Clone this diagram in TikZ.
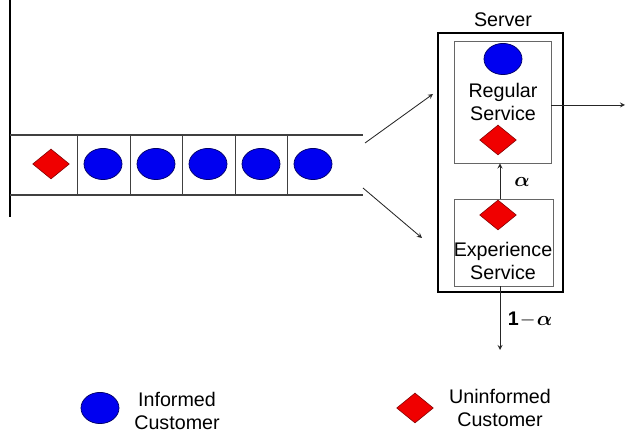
\documentclass[tikz,border=0pt]{standalone}
\usepackage{amsmath}
\usepackage{fontspec}
\setmainfont{Liberation Sans}
\usepackage{tikz}
\usetikzlibrary{shapes.geometric}
\tikzset{>=stealth}
\definecolor{informedblue}{RGB}{0,0,240}
\definecolor{uninfred}{RGB}{240,0,0}
\tikzset{
  informed/.style={ellipse,draw=blue!40!black,fill=informedblue,line width=0.5pt,
    minimum width=0.95cm,minimum height=0.78cm,inner sep=0pt},
  uninformed/.style={diamond,draw=red!50!black,fill=uninfred,line width=0.4pt,
    minimum width=0.92cm,minimum height=0.75cm,inner sep=0pt},
  servicebox/.style={draw=black!60,line width=0.6pt,inner sep=0pt},
  flow/.style={->,line width=0.6pt,black!85},
  lbl/.style={font=\fontsize{14}{16.5}\selectfont,align=center,inner sep=0pt},
}

\begin{document}
\begin{tikzpicture}[x=0.025cm,y=-0.025cm]
      \useasboundingbox (0,0) rectangle (627,432);
      % queue
      \draw[line width=0.8pt] (10,0) -- (10,217);
      \draw[line width=0.8pt,black!75] (10,135) -- (363,135);
      \draw[line width=0.8pt,black!75] (10,195) -- (363,195);
      \draw[line width=0.7pt,black!75] (77,135) -- (77,195);
      \draw[line width=0.7pt,black!75] (130,135) -- (130,195);
      \draw[line width=0.7pt,black!75] (182,135) -- (182,195);
      \draw[line width=0.7pt,black!75] (235,135) -- (235,195);
      \draw[line width=0.7pt,black!75] (287,135) -- (287,195);
      \node[uninformed] (w0) at (51,164) {};
      \node[informed] (w1) at (103,164) {};
      \node[informed] (w2) at (156,164) {};
      \node[informed] (w3) at (208,164) {};
      \node[informed] (w4) at (261,164) {};
      \node[informed] (w5) at (313,164) {};

      % server
      \node[draw,line width=1.2pt,minimum width=3.125cm,minimum height=6.475cm,inner sep=0pt]
        (server) at (500.5,162.5) {};
      \node[lbl] (servername) at (503,20) {Server};
      \node[servicebox,minimum width=2.425cm,minimum height=3.05cm] (regular) at (502.5,102) {};
      \node[servicebox,minimum width=2.475cm,minimum height=2.175cm] (experience) at (503.5,242.5) {};
      \node[informed] (inreg) at (503,59) {};
      \node[lbl] (regtext) at (503,102) {Regular\\Service};
      \node[uninformed] (uninreg) at (498,140) {};
      \node[uninformed] (uninexp) at (498,215) {};
      \node[lbl] (exptext) at (503,261) {Experience\\Service};

      % flows
      \coordinate (upstart) at (365,143);
      \coordinate (upend) at (433,94);
      \coordinate (downstart) at (363,188);
      \coordinate (downend) at (422,238);
      \coordinate (done) at (625,105);
      \coordinate (leave) at (500,350);
      \draw[flow] (upstart) -- (upend);
      \draw[flow] (downstart) -- (downend);
      \draw[flow] (experience.north -| 500,0) -- (regular.south -| 500,0);
      \draw[flow] (regular.east |- done) -- (done);
      \draw[flow] (experience.south -| leave) -- (leave);
      \node[lbl] (alpha) at (522,182) {$\boldsymbol{\alpha}$};
      \node[lbl] (oneminus) at (530,320) {$\mathbf{1}\!-\!\boldsymbol{\alpha}$};

      % legend
      \node[informed] (keyinf) at (100,408) {};
      \node[lbl] (keyinftext) at (177,411) {Informed\\Customer};
      \node[uninformed] (keyuninf) at (415,408) {};
      \node[lbl] (keyuninftext) at (500,408) {Uninformed\\Customer};
    \end{tikzpicture}
\end{document}
